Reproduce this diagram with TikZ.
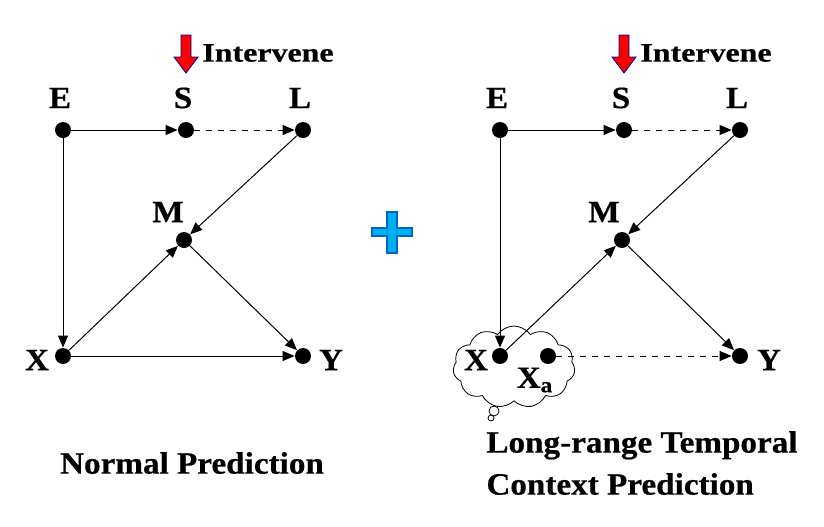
\documentclass[tikz,border=0pt]{standalone}
\usepackage{fontspec}
\setmainfont{Liberation Serif}
\newfontfamily\widefont[FakeStretch=1.2,FakeBold=0.6]{Liberation Serif}
\newfontfamily\capfont[FakeStretch=1.07,FakeBold=0.6]{Liberation Serif}
\usetikzlibrary{arrows.meta,shapes.symbols,calc}
\definecolor{plusfill}{RGB}{0,176,240}
\definecolor{plusline}{RGB}{0,102,190}
\tikzset{
    dot/.style={circle,fill=black,inner sep=0pt,minimum size=8pt},
    lbl/.style={font=\fontsize{15.5}{16}\selectfont\capfont\bfseries,inner sep=0pt},
    ivtext/.style={font=\fontsize{13.3}{14}\selectfont\widefont\bfseries,inner sep=0pt,anchor=west},
    captext/.style={font=\fontsize{15.5}{21}\selectfont\capfont\bfseries,align=left,inner sep=0pt},
    edge/.style={-{Triangle[length=6pt,width=5pt]},line width=0.5pt},
    dedge/.style={edge,dashed},
  }
\newcommand{\intervene}[1]{%
  \filldraw[fill=red,draw=blue!60!black,line width=0.4pt]
    ($(#1)+(-5,35)$) -- ($(#1)+(5,35)$) -- ($(#1)+(5,57)$) -- ($(#1)+(12,57)$)
    -- ($(#1)+(0,73)$) -- ($(#1)+(-12,57)$) -- ($(#1)+(-5,57)$) -- cycle;}
\begin{document}
\begin{tikzpicture}[x=0.5pt,y=-0.5pt]
  \useasboundingbox (0,0) rectangle (824,526);

  %NORMAL PREDICTION
  \node[dot] (E1) at (63,130) {};
  \node[dot] (S1) at (186,130) {};
  \node[dot] (L1) at (303,130) {};
  \node[dot] (M1) at (184,240) {};
  \node[dot] (X1) at (63,356) {};
  \node[dot] (Y1) at (303,356) {};
  \node[lbl] (lE1) at (60,98) {E};
  \node[lbl] (lS1) at (183,98) {S};
  \node[lbl] (lL1) at (300,98) {L};
  \node[lbl] (lM1) at (168,212) {M};
  \node[lbl] (lX1) at (37,360) {X};
  \node[lbl] (lY1) at (331,360) {Y};
  \draw[edge] (E1) -- (S1);
  \draw[dedge] (S1) -- (L1);
  \draw[edge] (E1) -- (X1);
  \draw[edge] (L1) -- (M1);
  \draw[edge] (X1) -- (M1);
  \draw[edge] (M1) -- (Y1);
  \draw[edge] (X1) -- (Y1);
  \coordinate (T1) at (186,0);
  \intervene{T1}
  \node[ivtext] (iv1) at (202,53) {Intervene};
  \node[captext] (c1) at (192,463) {Normal Prediction};

  %PLUS
  \filldraw[fill=plusfill,draw=plusline,line width=0.9pt]
    (387,212) -- (397,212) -- (397,228) -- (412,228) -- (412,236) -- (397,236)
    -- (397,253) -- (387,253) -- (387,236) -- (372,236) -- (372,228) -- (387,228) -- cycle;

  %LONG-RANGE
  \node[cloud,draw,fill=white,cloud puffs=11,cloud puff arc=110,aspect=1.5,
        minimum width=61pt,minimum height=41pt,inner sep=0pt] (cl) at (514,367) {};
  \draw[fill=white,line width=0.4pt] (494,411) circle (2.5pt);
  \draw[fill=white,line width=0.4pt] (491,418) circle (1.5pt);
  \node[dot] (E2) at (500,130) {};
  \node[dot] (S2) at (624,130) {};
  \node[dot] (L2) at (740,130) {};
  \node[dot] (M2) at (622,240) {};
  \node[dot] (X2) at (500,356) {};
  \node[dot] (Xa) at (548,356) {};
  \node[dot] (Y2) at (740,356) {};
  \node[lbl] (lE2) at (497,98) {E};
  \node[lbl] (lS2) at (621,98) {S};
  \node[lbl] (lL2) at (737,98) {L};
  \node[lbl] (lM2) at (604,212) {M};
  \node[lbl] (lX2) at (476,360) {X};
  \node[lbl] (lXa) at (535,380) {X\textsubscript{a}};
  \node[lbl] (lY2) at (769,360) {Y};
  \draw[edge] (E2) -- (S2);
  \draw[dedge] (S2) -- (L2);
  \draw[edge] (E2) -- (X2);
  \draw[edge] (L2) -- (M2);
  \draw[edge] (X2) -- (M2);
  \draw[edge] (M2) -- (Y2);
  \draw[dedge] (Xa) -- (Y2);
  \coordinate (T2) at (624,0);
  \intervene{T2}
  \node[ivtext] (iv2) at (640,53) {Intervene};
  \node[captext,anchor=west] (c2) at (486,463) {Long-range Temporal\\Context Prediction};
\end{tikzpicture}
\end{document}
